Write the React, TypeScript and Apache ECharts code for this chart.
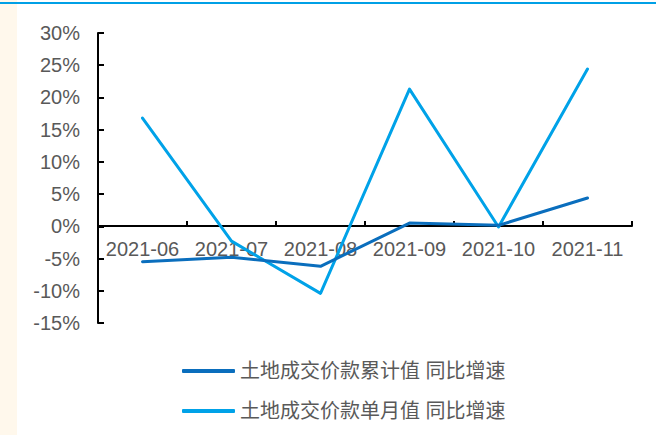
import React, { useEffect, useRef } from "react";
import * as echarts from "echarts";

const categories = ["2021-06", "2021-07", "2021-08", "2021-09", "2021-10", "2021-11"];
const cumulativeYoY = [-5.5, -4.8, -6.2, 0.5, 0.15, 4.4];
const monthlyYoY = [16.8, -2.3, -10.4, 21.3, -0.1, 24.4];
const seriesNames = ["土地成交价款累计值 同比增速", "土地成交价款单月值 同比增速"];

export default function App() {
  const ref = useRef<HTMLDivElement>(null);
  useEffect(() => {
    if (!ref.current) return;
    const chart = echarts.init(ref.current, undefined, { renderer: "svg" });
    const font = "Arial, 'Liberation Sans', 'Noto Sans CJK SC', sans-serif";
    chart.setOption({
      animation: false,
      backgroundColor: "#ffffff",
      textStyle: { fontFamily: font },
      graphic: [
        { type: "rect", left: 0, top: 0, shape: { x: 0, y: 0, width: 17, height: 435 }, style: { fill: "#FFF8EC" }, z: -1 },
        { type: "rect", left: 0, top: 2, shape: { x: 0, y: 0, width: 656, height: 2 }, style: { fill: "#00A0E6" } },
      ],
      grid: { left: 98, right: 24, top: 33, bottom: 112, containLabel: false },
      legend: {
        orient: "vertical",
        left: 182,
        top: 361,
        padding: 0,
        itemWidth: 53,
        itemHeight: 4,
        itemGap: 20,
        icon: "roundRect",
        textStyle: { color: "#595959", fontSize: 20, fontFamily: font, padding: [0, 0, 0, 0] },
        data: seriesNames,
      },
      xAxis: {
        type: "category",
        data: categories,
        boundaryGap: true,
        offset: -97,
        axisLine: { onZero: false, lineStyle: { color: "#000000", width: 2 } },
        axisTick: { show: true, inside: true, length: 5, interval: 0, lineStyle: { color: "#000", width: 2 } },
        axisLabel: { color: "#595959", fontSize: 20, margin: 13, interval: 0 },
        splitLine: { show: false },
      },
      yAxis: {
        type: "value",
        min: -15,
        max: 30,
        interval: 5,
        axisLine: { show: true, lineStyle: { color: "#000000", width: 2 } },
        axisTick: { show: true, inside: true, length: 6, lineStyle: { color: "#000", width: 2 } },
        axisLabel: { color: "#595959", fontSize: 20, margin: 18, formatter: "{value}%" },
        splitLine: { show: false },
      },
      series: [
        {
          name: seriesNames[0],
          type: "line",
          data: cumulativeYoY,
          symbol: "none",
          lineStyle: { color: "#0A6EBD", width: 3, cap: "round", join: "round" },
          itemStyle: { color: "#0A6EBD" },
          z: 3,
        },
        {
          name: seriesNames[1],
          type: "line",
          data: monthlyYoY,
          symbol: "none",
          lineStyle: { color: "#00A2E8", width: 3, cap: "round", join: "round" },
          itemStyle: { color: "#00A2E8" },
          z: 2,
        },
      ],
    });
    return () => chart.dispose();
  }, []);
  return <div ref={ref} style={{ position: "fixed", left: 0, top: 0, width: 656, height: 435 }} />;
}
